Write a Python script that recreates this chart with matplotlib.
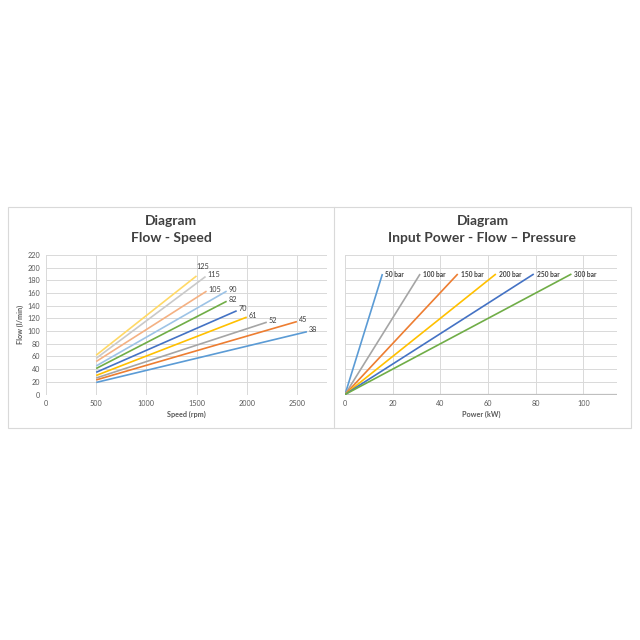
import matplotlib
matplotlib.use("Agg")
import matplotlib.pyplot as plt
from matplotlib.patches import Rectangle
from matplotlib.lines import Line2D

plt.rcParams["font.family"] = ["Lato", "DejaVu Sans"]

# Flow - Speed: displacement (cc) lines from 500 rpm to max speed
displacement = ["38", "45", "52", "61", "70", "82", "90", "105", "115", "125"]
speed_start = [500, 500, 500, 500, 500, 500, 500, 500, 500, 500]
speed_end = [2600, 2500, 2200, 2000, 1900, 1800, 1800, 1600, 1590, 1500]
flow_start = [19, 23, 26, 30, 35, 41, 45, 52, 57, 62]
flow_end = [99, 115, 114, 122, 132, 147, 163, 163, 186, 187]
fs_colors = ["#5B9BD5", "#ED7D31", "#A5A5A5", "#FFC000", "#4472C4",
             "#70AD47", "#9DC3E6", "#F4B183", "#C9C9C9", "#FFD966"]

# Input power - flow - pressure
pressure = ["50 bar", "100 bar", "150 bar", "200 bar", "250 bar", "300 bar"]
power_end = [15.7, 31.5, 47.3, 63.3, 79.2, 95.0]
flow_top = [190, 190, 190, 190, 190, 190]
pw_colors = ["#5B9BD5", "#A5A5A5", "#ED7D31", "#FFC000", "#4472C4", "#70AD47"]

_GRID = "#D9D9D9"
_TICK = "#595959"
_TXT = "#404040"

fig = plt.figure(figsize=(6.4, 6.4), dpi=100, facecolor="white")


def px(x0, y0, x1, y1):
    # pixel box (top-left origin) -> figure fraction rect
    return [x0 / 640, 1 - y1 / 640, (x1 - x0) / 640, (y1 - y0) / 640]


# outer frame and divider
fig.add_artist(Rectangle((8 / 640, 1 - 428 / 640), 623 / 640, 221 / 640,
                         transform=fig.transFigure, fill=False,
                         edgecolor=_GRID, linewidth=0.8))
fig.add_artist(Line2D([334 / 640, 334 / 640], [1 - 428 / 640, 1 - 207 / 640],
                      transform=fig.transFigure, color=_GRID, linewidth=0.8))


def style(ax, xlim, xticks):
    ax.set_xlim(*xlim)
    ax.set_ylim(0, 220)
    ax.set_xticks(xticks)
    ax.set_yticks(range(0, 221, 20))
    ax.grid(True, color=_GRID, linewidth=0.7)
    ax.set_axisbelow(True)
    for s in ax.spines.values():
        s.set_visible(False)
    ax.tick_params(length=0, labelsize=5.2, labelcolor=_TICK, pad=4)


ax1 = fig.add_axes(px(46, 255, 327, 394.5))
style(ax1, (0, 2800), range(0, 2501, 500))
for i, lab in enumerate(displacement):
    ax1.plot([speed_start[i], speed_end[i]], [flow_start[i], flow_end[i]],
             color=fs_colors[i], linewidth=1.2, solid_capstyle="butt")
    # the top label sits above its line end, the rest to the right
    off = (0, 7) if lab == "125" else (1.5, 1.5)
    ax1.annotate(lab, (speed_end[i], flow_end[i]), xytext=off,
                 textcoords="offset points", fontsize=5.2, color=_TXT,
                 ha="left", va="center")
ax1.set_xlabel("Speed (rpm)", fontsize=5.2, fontweight="bold", color=_TICK, labelpad=3)
ax1.set_ylabel("Flow (l/min)", fontsize=5.2, fontweight="bold", color=_TICK, labelpad=3)

ax2 = fig.add_axes(px(345, 255, 616.7, 394.5))
style(ax2, (0, 114), range(0, 101, 20))
ax2.set_yticklabels([])
ax2.axhline(0, color="#BFBFBF", linewidth=1.6)
for i, lab in enumerate(pressure):
    ax2.plot([0, power_end[i]], [0, flow_top[i]], color=pw_colors[i],
             linewidth=1.2, solid_capstyle="butt")
    ax2.annotate(lab, (power_end[i], flow_top[i]), xytext=(2, 0),
                 textcoords="offset points", fontsize=4.8, color=_TXT,
                 fontweight="bold", ha="left", va="center")
ax2.set_xlabel("Power (kW)", fontsize=5.2, fontweight="bold", color=_TICK, labelpad=3)

for cx, sub in ((171 / 640, "Flow - Speed"), (482.5 / 640, "Input Power - Flow \u2013 Pressure")):
    fig.text(cx, 1 - 221 / 640, "Diagram", ha="center", va="center",
             fontsize=10, fontweight="bold", color=_TXT)
    fig.text(cx, 1 - 238 / 640, sub, ha="center", va="center",
             fontsize=10, fontweight="bold", color=_TXT)

fig.savefig("out.png", dpi=100, facecolor="white")
